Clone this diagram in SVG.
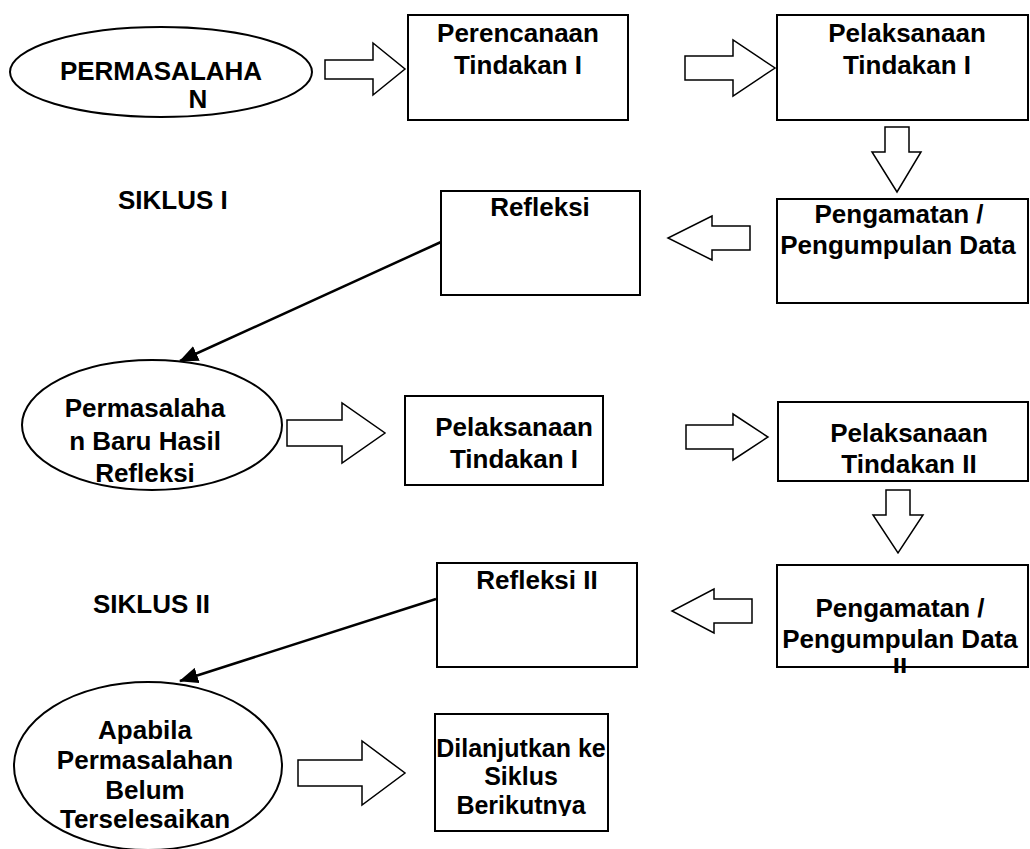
<svg xmlns="http://www.w3.org/2000/svg" width="1030" height="849" viewBox="0 0 1030 849">
<style>
.box{fill:#fff;stroke:#000;stroke-width:2}
.blk{fill:#fff;stroke:#000;stroke-width:1.5}
.t{font-family:"Liberation Sans",Arial,sans-serif;font-weight:bold;font-size:26px;fill:#000;text-anchor:middle}
.s{text-anchor:start}
.sm{font-size:25px}
.ln{stroke:#000;stroke-width:2.5;fill:none}
</style>
<defs>
<marker id="ah" markerWidth="20" markerHeight="16" refX="18" refY="8" orient="auto" markerUnits="userSpaceOnUse">
<path d="M0,0 L19,8 L0,16 Z" fill="#000"/>
</marker>
<clipPath id="cp1"><rect x="777" y="565" width="251" height="108"/></clipPath>
<clipPath id="cp2"><rect x="435" y="714" width="173" height="102"/></clipPath>
</defs>
<rect width="1030" height="849" fill="#fff"/>

<g id="connectors">
<polygon class="blk" points="325,60 373,60 373,43 405,69 373,95 373,79 325,79"/>
<polygon class="blk" points="685,56 733,56 733,40 775,68 733,96 733,80 685,80"/>
<polygon class="blk" points="885,127 909,127 909,152 921,152 897,192 872,152 885,152"/>
<polygon class="blk" points="750,226 712,226 712,216 668,238 712,260 712,250 750,250"/>
<line class="ln" x1="441" y1="242" x2="180" y2="361" marker-end="url(#ah)"/>
<polygon class="blk" points="287,420 342,420 342,403 385,433 342,463 342,446 287,446"/>
<polygon class="blk" points="686,425 733,425 733,414 768,437 733,460 733,449 686,449"/>
<polygon class="blk" points="886,490 910,490 910,515 923,515 898,553 873,515 886,515"/>
<polygon class="blk" points="752,599 714,599 714,589 672,611 714,633 714,623 752,623"/>
<line class="ln" x1="436" y1="599" x2="180" y2="681" marker-end="url(#ah)"/>
<polygon class="blk" points="298,760 362,760 362,741 405,773 362,805 362,786 298,786"/>
</g>

<g id="n-permasalahan">
<ellipse class="box" cx="161" cy="72" rx="151" ry="45"/>
<text class="t" x="161" y="80">PERMASALAHA</text>
<text class="t" x="198" y="108">N</text>
</g>
<g id="n-perencanaan">
<rect class="box" x="408" y="15" width="220" height="105"/>
<text class="t" x="518" y="42">Perencanaan</text>
<text class="t" x="518" y="74">Tindakan I</text>
</g>
<g id="n-pelaksanaan1">
<rect class="box" x="777" y="15" width="251" height="105"/>
<text class="t" x="907" y="42">Pelaksanaan</text>
<text class="t" x="907" y="74">Tindakan I</text>
</g>
<g id="lbl-siklus1">
<text class="t s" x="118" y="209">SIKLUS I</text>
</g>
<g id="n-refleksi">
<rect class="box" x="441" y="191" width="199" height="104"/>
<text class="t" x="540" y="216">Refleksi</text>
</g>
<g id="n-pengamatan">
<rect class="box" x="777" y="199" width="251" height="104"/>
<text class="t" x="899" y="223">Pengamatan /</text>
<text class="t" x="898" y="254">Pengumpulan Data</text>
</g>
<g id="n-permasalahan-baru">
<ellipse class="box" cx="152" cy="425" rx="130" ry="65"/>
<text class="t" x="145" y="417">Permasalaha</text>
<text class="t" x="145" y="450">n Baru Hasil</text>
<text class="t" x="145" y="482">Refleksi</text>
</g>
<g id="n-pelaksanaan1b">
<rect class="box" x="405" y="396" width="198" height="89"/>
<text class="t" x="514" y="436">Pelaksanaan</text>
<text class="t" x="514" y="468">Tindakan I</text>
</g>
<g id="n-pelaksanaan2">
<rect class="box" x="778" y="402" width="250" height="79"/>
<text class="t" x="909" y="442">Pelaksanaan</text>
<text class="t" x="909" y="473">Tindakan II</text>
</g>
<g id="lbl-siklus2">
<text class="t s" x="93" y="613">SIKLUS II</text>
</g>
<g id="n-refleksi2">
<rect class="box" x="437" y="563" width="200" height="104"/>
<text class="t" x="537" y="589">Refleksi II</text>
</g>
<g id="n-pengamatan2">
<rect class="box" x="777" y="565" width="251" height="102"/>
<g clip-path="url(#cp1)">
<text class="t" x="900" y="617">Pengamatan /</text>
<text class="t" x="900" y="648">Pengumpulan Data</text>
<text class="t" x="900" y="676">II</text>
</g>
</g>
<g id="n-apabila">
<ellipse class="box" cx="148" cy="766" rx="134" ry="84"/>
<text class="t" x="145" y="739">Apabila</text>
<text class="t" x="145" y="769">Permasalahan</text>
<text class="t" x="145" y="799">Belum</text>
<text class="t" x="145" y="828">Terselesaikan</text>
</g>
<g id="n-dilanjutkan">
<rect class="box" x="435" y="714" width="173" height="117"/>
<g clip-path="url(#cp2)">
<text class="t sm" x="521" y="757">Dilanjutkan ke</text>
<text class="t sm" x="521" y="785">Siklus</text>
<text class="t sm" x="521" y="814">Berikutnya</text>
</g>
</g>
</svg>
